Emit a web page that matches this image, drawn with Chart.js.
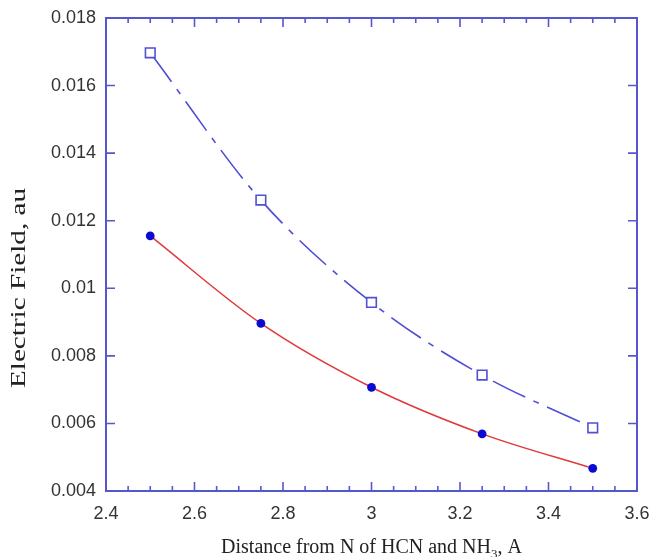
<!DOCTYPE html>
<html>
<head>
<meta charset="utf-8">
<script src="https://cdn.jsdelivr.net/npm/chart.js@4"></script>
<style>
html, body { margin: 0; padding: 0; background: #fff; }
</style>
</head>
<body>
<canvas id="chart" width="649" height="557"></canvas>
<script>
const distance = [2.5, 2.75, 3.0, 3.25, 3.5];
const fieldSquares = [0.01697, 0.01261, 0.00958, 0.00743, 0.00587];
const fieldCircles = [0.01155, 0.00896, 0.00707, 0.00569, 0.00467];

const xTicks = [2.4, 2.6, 2.8, 3.0, 3.2, 3.4, 3.6];
const xTickLabels = ['2.4', '2.6', '2.8', '3', '3.2', '3.4', '3.6'];
const yTicks = [0.004, 0.006, 0.008, 0.010, 0.012, 0.014, 0.016, 0.018];
const yTickLabels = ['0.004', '0.006', '0.008', '0.01', '0.012', '0.014', '0.016', '0.018'];

const xTitle = ['Distance from N of HCN and NH', '3', ', A'];
const yTitle = 'Electric Field, au';

const axisBlue = '#5656cf';
const tickFont = { family: '"Liberation Sans", Arial, sans-serif', size: 18 };

const toPoints = (xs, ys) => xs.map((x, i) => ({ x, y: ys[i] }));

// inward ticks on all four sides + the box around the plot
const frame = {
    id: 'frame',
    afterDatasetsDraw(chart) {
        const { ctx, chartArea: a, scales: { x, y } } = chart;
        ctx.save();
        ctx.strokeStyle = axisBlue;
        ctx.lineWidth = 1.6;
        ctx.beginPath();
        for (let i = 0; i < xTicks.length; i++) {
            const px = x.getPixelForValue(xTicks[i]);
            ctx.moveTo(px, a.bottom); ctx.lineTo(px, a.bottom - 9);
            ctx.moveTo(px, a.top); ctx.lineTo(px, a.top + 9);
            if (i < xTicks.length - 1) {
                const step = (xTicks[i + 1] - xTicks[i]) / 4;
                for (let k = 1; k < 4; k++) {
                    const mx = x.getPixelForValue(xTicks[i] + k * step);
                    ctx.moveTo(mx, a.bottom); ctx.lineTo(mx, a.bottom - 5);
                    ctx.moveTo(mx, a.top); ctx.lineTo(mx, a.top + 5);
                }
            }
        }
        for (const v of yTicks) {
            const py = y.getPixelForValue(v);
            ctx.moveTo(a.left, py); ctx.lineTo(a.left + 9, py);
            ctx.moveTo(a.right, py); ctx.lineTo(a.right - 9, py);
        }
        ctx.stroke();
        ctx.lineWidth = 2;
        ctx.strokeRect(a.left, a.top, a.right - a.left, a.bottom - a.top);

        // axis titles
        ctx.fillStyle = '#222';
        ctx.font = '20px "Liberation Serif", "Times New Roman", serif';
        ctx.textBaseline = 'alphabetic';
        const w0 = ctx.measureText(xTitle[0]).width;
        ctx.font = '13px "Liberation Serif", "Times New Roman", serif';
        const w1 = ctx.measureText(xTitle[1]).width;
        ctx.font = '20px "Liberation Serif", "Times New Roman", serif';
        const w2 = ctx.measureText(xTitle[2]).width;
        let tx = (a.left + a.right) / 2 - (w0 + w1 + w2) / 2;
        ctx.textAlign = 'left';
        ctx.fillText(xTitle[0], tx, 553);
        ctx.font = '13px "Liberation Serif", "Times New Roman", serif';
        ctx.fillText(xTitle[1], tx + w0, 558);
        ctx.font = '20px "Liberation Serif", "Times New Roman", serif';
        ctx.fillText(xTitle[2], tx + w0 + w1, 553);

        ctx.translate(25, 288);
        ctx.rotate(-Math.PI / 2);
        const wy = ctx.measureText(yTitle).width;
        ctx.scale(200 / wy, 1);
        ctx.textAlign = 'center';
        ctx.fillText(yTitle, 0, 0);
        ctx.restore();
    }
};

new Chart(document.querySelector('#chart'), {
    type: 'line',
    data: {
        datasets: [{
            data: toPoints(distance, fieldSquares),
            borderColor: '#4d4dd6',
            borderWidth: 1.6,
            borderDash: [36, 9, 6, 9],
            cubicInterpolationMode: 'monotone',
            pointStyle: 'rect',
            pointRadius: 6.8,
            pointBorderWidth: 1.6,
            pointBorderColor: '#5050d4',
            pointBackgroundColor: '#fff'
        }, {
            data: toPoints(distance, fieldCircles),
            borderColor: '#e0393b',
            borderWidth: 1.5,
            cubicInterpolationMode: 'monotone',
            pointStyle: 'circle',
            pointRadius: 4.4,
            pointBorderWidth: 0,
            pointBackgroundColor: '#0a0ad2'
        }]
    },
    options: {
        responsive: false,
        animation: false,
        layout: { padding: { top: 18, right: 12, left: 0, bottom: 0 } },
        plugins: {
            legend: { display: false },
            tooltip: { enabled: false }
        },
        scales: {
            x: {
                type: 'linear',
                min: 2.4,
                max: 3.6,
                afterBuildTicks: s => { s.ticks = xTicks.map(value => ({ value })); },
                afterFit: s => { s.height = 66; s.paddingLeft = 0; s.paddingRight = 0; },
                grid: { display: false, drawTicks: false },
                border: { display: false },
                ticks: {
                    autoSkip: false,
                    maxRotation: 0,
                    padding: 12,
                    color: '#333',
                    font: tickFont,
                    callback: (v, i) => xTickLabels[i]
                }
            },
            y: {
                type: 'linear',
                min: 0.004,
                max: 0.018,
                afterBuildTicks: s => { s.ticks = yTicks.map(value => ({ value })); },
                afterFit: s => { s.width = 106; s.paddingTop = 0; s.paddingBottom = 0; },
                grid: { display: false, drawTicks: false },
                border: { display: false },
                ticks: {
                    autoSkip: false,
                    padding: 10,
                    color: '#333',
                    font: tickFont,
                    callback: (v, i) => yTickLabels[i]
                }
            }
        }
    },
    plugins: [frame]
});
</script>
</body>
</html>
